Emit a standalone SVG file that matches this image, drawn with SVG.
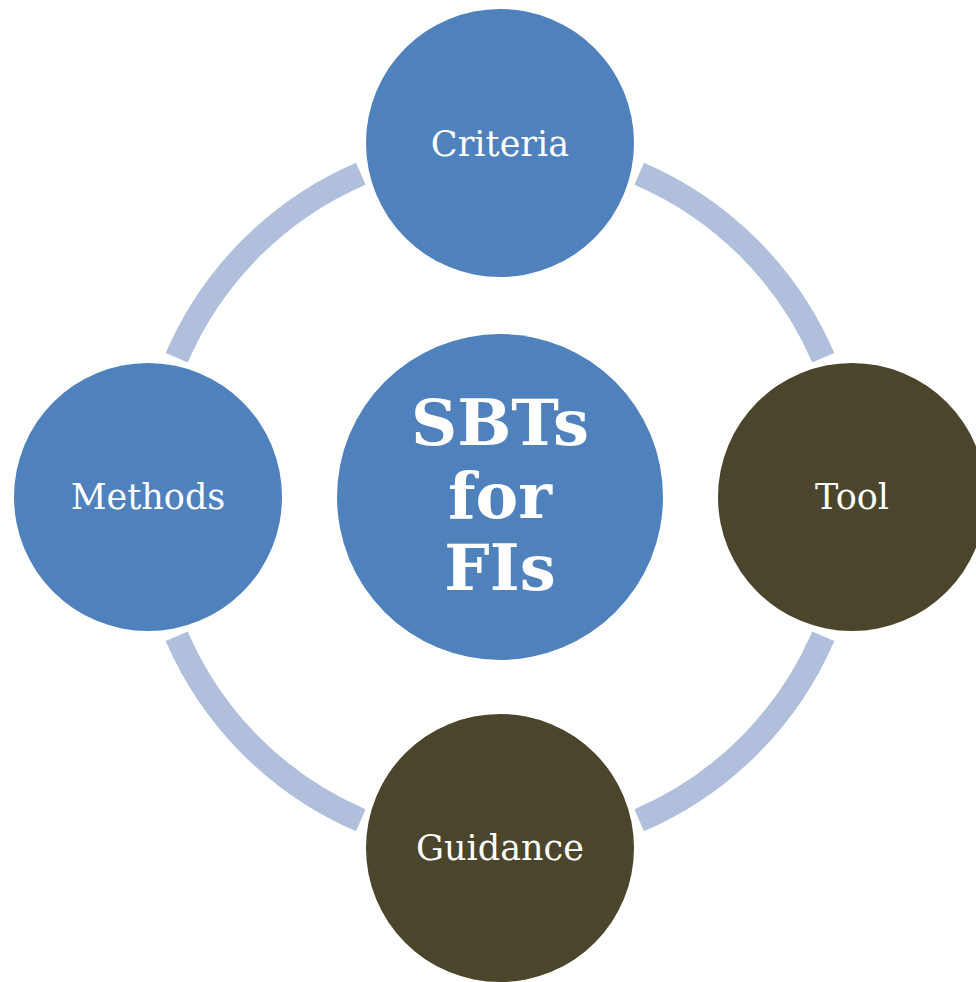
<svg xmlns="http://www.w3.org/2000/svg" width="976" height="982" viewBox="0 0 976 982">
<style>
.ring{fill:none;stroke:#b0c0dc;stroke-width:24;stroke-linecap:butt}
.blue{fill:#4f81bd}
.olive{fill:#4a452b}
.lbl{font-family:"DejaVu Serif","Liberation Serif",serif;font-size:35px;fill:#ffffff;text-anchor:middle}
.big{font-family:"DejaVu Serif","Liberation Serif",serif;font-size:64px;font-weight:bold;fill:#ffffff;text-anchor:middle}
</style>
<rect width="976" height="982" fill="#ffffff"/>
<g id="connectors">
<path class="ring" d="M639.2,173.7 A352,352 0 0 1 823.3,357.8"/>
<path class="ring" d="M823.3,636.2 A352,352 0 0 1 639.2,820.3"/>
<path class="ring" d="M360.8,820.3 A352,352 0 0 1 176.7,636.2"/>
<path class="ring" d="M176.7,357.8 A352,352 0 0 1 360.8,173.7"/>
</g>
<g id="center">
<circle class="blue" cx="500" cy="497" r="163"/>
<text class="big" x="500" y="445">SBTs</text>
<text class="big" x="500" y="518">for</text>
<text class="big" x="500" y="590">FIs</text>
</g>
<g id="criteria">
<circle class="blue" cx="500" cy="143" r="134"/>
<text class="lbl" x="500" y="156">Criteria</text>
</g>
<g id="methods">
<circle class="blue" cx="148" cy="497" r="134"/>
<text class="lbl" x="148" y="509">Methods</text>
</g>
<g id="tool">
<circle class="olive" cx="852" cy="497" r="134"/>
<text class="lbl" x="852" y="509">Tool</text>
</g>
<g id="guidance">
<circle class="olive" cx="500" cy="848" r="134"/>
<text class="lbl" x="500" y="860">Guidance</text>
</g>
</svg>
